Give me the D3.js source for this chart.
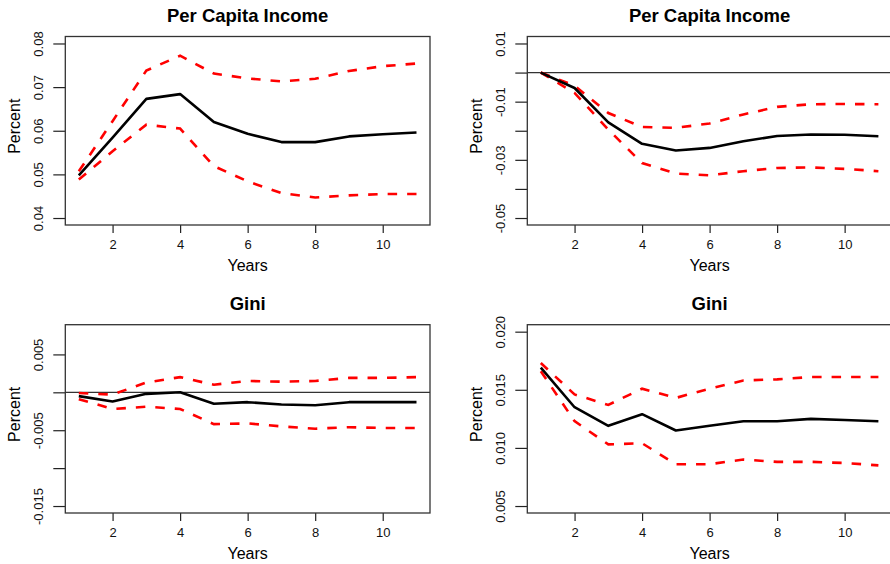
<!DOCTYPE html>
<html>
<head>
<meta charset="utf-8">
<script src="https://cdn.jsdelivr.net/npm/d3@7"></script>
<style>
    body { margin: 0; background: #fff; }
    svg { display: block; font-family: "Liberation Sans", Arial, Helvetica, sans-serif; }
</style>
</head>
<body>
<svg id="chart" width="890" height="564"></svg>
<script>
// data
const years = [1, 2, 3, 4, 5, 6, 7, 8, 9, 10, 11];
const yearTicks = [2, 4, 6, 8, 10];

// top left: per capita income
const incomeLeftMean  = [0.0498, 0.0584, 0.0673, 0.0684, 0.0620, 0.0593, 0.0574, 0.0574, 0.0587, 0.0592, 0.0596];
const incomeLeftUpper = [0.0507, 0.0622, 0.0738, 0.0772, 0.0731, 0.0720, 0.0713, 0.0719, 0.0737, 0.0748, 0.0754];
const incomeLeftLower = [0.0488, 0.0553, 0.0614, 0.0605, 0.0519, 0.0484, 0.0457, 0.0447, 0.0452, 0.0455, 0.0455];
const incomeLeftLim = [0.04, 0.08];
const incomeLeftTicks = [0.04, 0.05, 0.06, 0.07, 0.08];
const incomeLeftLabels = ["0.04", "0.05", "0.06", "0.07", "0.08"];

// top right: per capita income
const incomeRightMean  = [0.0000, -0.0053, -0.0171, -0.0245, -0.0268, -0.0259, -0.0236, -0.0218, -0.0213, -0.0214, -0.0219];
const incomeRightUpper = [0.0000, -0.0045, -0.0139, -0.0187, -0.0190, -0.0175, -0.0144, -0.0118, -0.0109, -0.0108, -0.0109];
const incomeRightLower = [0.0000, -0.0070, -0.0196, -0.0311, -0.0347, -0.0353, -0.0339, -0.0328, -0.0326, -0.0331, -0.0339];
const incomeRightLim = [-0.05, 0.01];
const incomeRightTicks = [-0.05, -0.04, -0.03, -0.02, -0.01, 0, 0.01];
const incomeRightLabels = ["-0.05", "", "-0.03", "", "-0.01", "", "0.01"];

// bottom left: gini
const giniLeftMean  = [-0.0005, -0.0012, -0.0002, 0.0000, -0.0015, -0.0013, -0.0016, -0.0017, -0.0013, -0.0013, -0.0013];
const giniLeftUpper = [-0.0001, -0.0003, 0.0013, 0.0020, 0.0010, 0.0015, 0.0014, 0.0015, 0.0019, 0.0019, 0.0020];
const giniLeftLower = [-0.0009, -0.0022, -0.0019, -0.0022, -0.0042, -0.0041, -0.0045, -0.0048, -0.0046, -0.0047, -0.0047];
const giniLeftLim = [-0.015, 0.008];
const giniLeftTicks = [-0.015, -0.01, -0.005, 0, 0.005];
const giniLeftLabels = ["-0.015", "", "-0.005", "", "0.005"];

// bottom right: gini
const giniRightMean  = [0.0169, 0.0135, 0.0119, 0.0129, 0.0115, 0.0119, 0.0123, 0.0123, 0.0125, 0.0124, 0.0123];
const giniRightUpper = [0.0173, 0.0146, 0.0137, 0.0151, 0.0143, 0.0151, 0.0158, 0.0159, 0.0161, 0.0161, 0.0161];
const giniRightLower = [0.0166, 0.0123, 0.0103, 0.0104, 0.0086, 0.0086, 0.0090, 0.0088, 0.0088, 0.0087, 0.0085];
const giniRightLim = [0.005, 0.020];
const giniRightTicks = [0.005, 0.010, 0.015, 0.020];
const giniRightLabels = ["0.005", "0.010", "0.015", "0.020"];

const svg = d3.select("#chart");
const fontStack = '"Liberation Sans", Arial, Helvetica, sans-serif';

// draw one panel, box = plot region in pixels
const drawPanel = (box, title, mean, upper, lower, lim, ticks, labels, zeroLine) => {
    let g = svg.append("g");
    // R style 4% padding round the data range
    let xPad = (years[years.length - 1] - years[0]) * 0.04;
    let yPad = (lim[1] - lim[0]) * 0.04;
    let x = d3.scaleLinear()
        .domain([years[0] - xPad, years[years.length - 1] + xPad])
        .range([box.left, box.right]);
    let y = d3.scaleLinear()
        .domain([lim[0] - yPad, lim[1] + yPad])
        .range([box.bottom, box.top]);

    // x axis
    let xAxis = g.append("g")
        .attr("transform", "translate(0," + box.bottom + ")")
        .call(d3.axisBottom(x).tickValues(yearTicks).tickSize(8).tickSizeOuter(0))
        .attr("font-family", fontStack)
        .attr("font-size", 13);
    xAxis.select(".domain").remove();
    xAxis.selectAll("line").attr("stroke", "#222").attr("stroke-width", 1.2);
    xAxis.selectAll("text")
        .attr("y", 24).attr("dy", 0)
        .attr("fill", "#111");

    // y axis with rotated labels
    let yAxis = g.append("g")
        .attr("transform", "translate(" + box.left + ",0)")
        .call(d3.axisLeft(y).tickValues(ticks).tickSize(12).tickSizeOuter(0)
            .tickFormat((d, i) => labels[i]))
        .attr("font-family", fontStack)
        .attr("font-size", 13);
    yAxis.select(".domain").remove();
    yAxis.selectAll("line").attr("stroke", "#222").attr("stroke-width", 1.2);
    yAxis.selectAll("text")
        .attr("transform", "rotate(-90)")
        .attr("x", 0).attr("y", -22).attr("dy", 0)
        .attr("text-anchor", "middle")
        .attr("fill", "#111");

    // zero reference line
    if (zeroLine) {
        g.append("line")
            .attr("x1", box.left).attr("x2", box.right)
            .attr("y1", y(0)).attr("y2", y(0))
            .attr("stroke", "#333").attr("stroke-width", 1.3);
    }

    let line = d3.line()
        .x((d, i) => x(years[i]))
        .y(d => y(d));

    // confidence bands
    [upper, lower].forEach(band => {
        g.append("path")
            .datum(band)
            .attr("d", line)
            .attr("fill", "none")
            .attr("stroke", "#ff0000")
            .attr("stroke-width", 2.6)
            .attr("stroke-dasharray", "9.5,10");
    });

    // mean response
    g.append("path")
        .datum(mean)
        .attr("d", line)
        .attr("fill", "none")
        .attr("stroke", "#000")
        .attr("stroke-width", 2.6)
        .attr("stroke-linejoin", "round");

    // box
    g.append("rect")
        .attr("x", box.left).attr("y", box.top)
        .attr("width", box.right - box.left).attr("height", box.bottom - box.top)
        .attr("fill", "none")
        .attr("stroke", "#333").attr("stroke-width", 1.3);

    // titles
    g.append("text")
        .attr("x", (box.left + box.right) / 2).attr("y", box.top - 14.5)
        .attr("text-anchor", "middle")
        .style("font-size", "18.5px").style("font-weight", "bold")
        .text(title);
    g.append("text")
        .attr("x", (box.left + box.right) / 2).attr("y", box.bottom + 45.5)
        .attr("text-anchor", "middle")
        .style("font-size", "16px")
        .text("Years");
    g.append("text")
        .attr("transform", "translate(" + (box.left - 45.5) + "," + ((box.top + box.bottom) / 2 - 4.5) + ") rotate(-90)")
        .attr("text-anchor", "middle")
        .style("font-size", "16px")
        .text("Percent");
};

drawPanel({ left: 65.3, right: 430, top: 36.5, bottom: 225 }, "Per Capita Income",
    incomeLeftMean, incomeLeftUpper, incomeLeftLower, incomeLeftLim, incomeLeftTicks, incomeLeftLabels, false);
drawPanel({ left: 527.3, right: 891.9, top: 36.5, bottom: 225 }, "Per Capita Income",
    incomeRightMean, incomeRightUpper, incomeRightLower, incomeRightLim, incomeRightTicks, incomeRightLabels, true);
drawPanel({ left: 65.3, right: 430, top: 324.7, bottom: 513 }, "Gini",
    giniLeftMean, giniLeftUpper, giniLeftLower, giniLeftLim, giniLeftTicks, giniLeftLabels, true);
drawPanel({ left: 527.3, right: 891.9, top: 324.7, bottom: 513 }, "Gini",
    giniRightMean, giniRightUpper, giniRightLower, giniRightLim, giniRightTicks, giniRightLabels, false);
</script>
</body>
</html>
